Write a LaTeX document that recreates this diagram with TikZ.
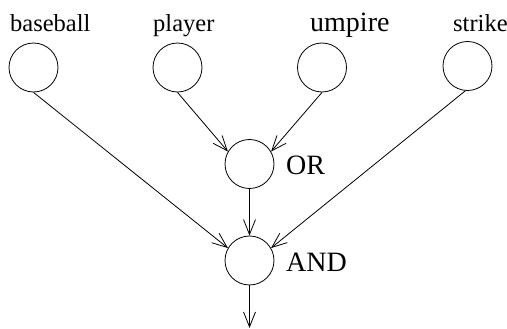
\documentclass[tikz,border=0pt]{standalone}
\usepackage{fontspec}
\setmainfont{Liberation Serif}
\usetikzlibrary{arrows.meta}
\begin{document}
\begin{tikzpicture}[x=1pt,y=-1pt,
  gate/.style={circle,draw,line width=0.8pt,minimum size=49pt,inner sep=0pt},
  small/.style={anchor=base west,inner sep=0pt,font=\fontsize{24.5}{26}\selectfont},
  big/.style={anchor=base west,inner sep=0pt,font=\fontsize{28}{30}\selectfont},
  conn/.style={line width=0.8pt,-{Straight Barb[length=15pt,width=12pt,line width=0.8pt]}}]
\useasboundingbox (0,0) rectangle (507,329);
\node[gate] (baseball) at (33.5,67.5) {};
\node[gate] (player) at (177.5,67.5) {};
\node[gate] (umpire) at (322,67.5) {};
\node[gate] (strike) at (467.5,66) {};
\node[gate] (or) at (249.5,164) {};
\node[gate] (and) at (249.5,260.5) {};
\coordinate (out) at (249.5,328);
\node[small] (lbase) at (10,32) {baseball};
\node[small] (lplay) at (153,32) {player};
\node[big] (lump) at (310,32) {umpire};
\node[small] (lstr) at (453,32) {strike};
\node[big] (lor) at (286,175) {OR};
\node[big] (land) at (286,272) {AND};
\draw[conn] (baseball.south) -- (and.150);
\draw[conn] (player.south) -- (or.150);
\draw[conn] (umpire.south) -- (or.30);
\draw[conn] (strike.-95) -- (and.30);
\draw[conn] (or.south) -- (and.north);
\draw[conn] (and.south) -- (out);
\end{tikzpicture}
\end{document}
